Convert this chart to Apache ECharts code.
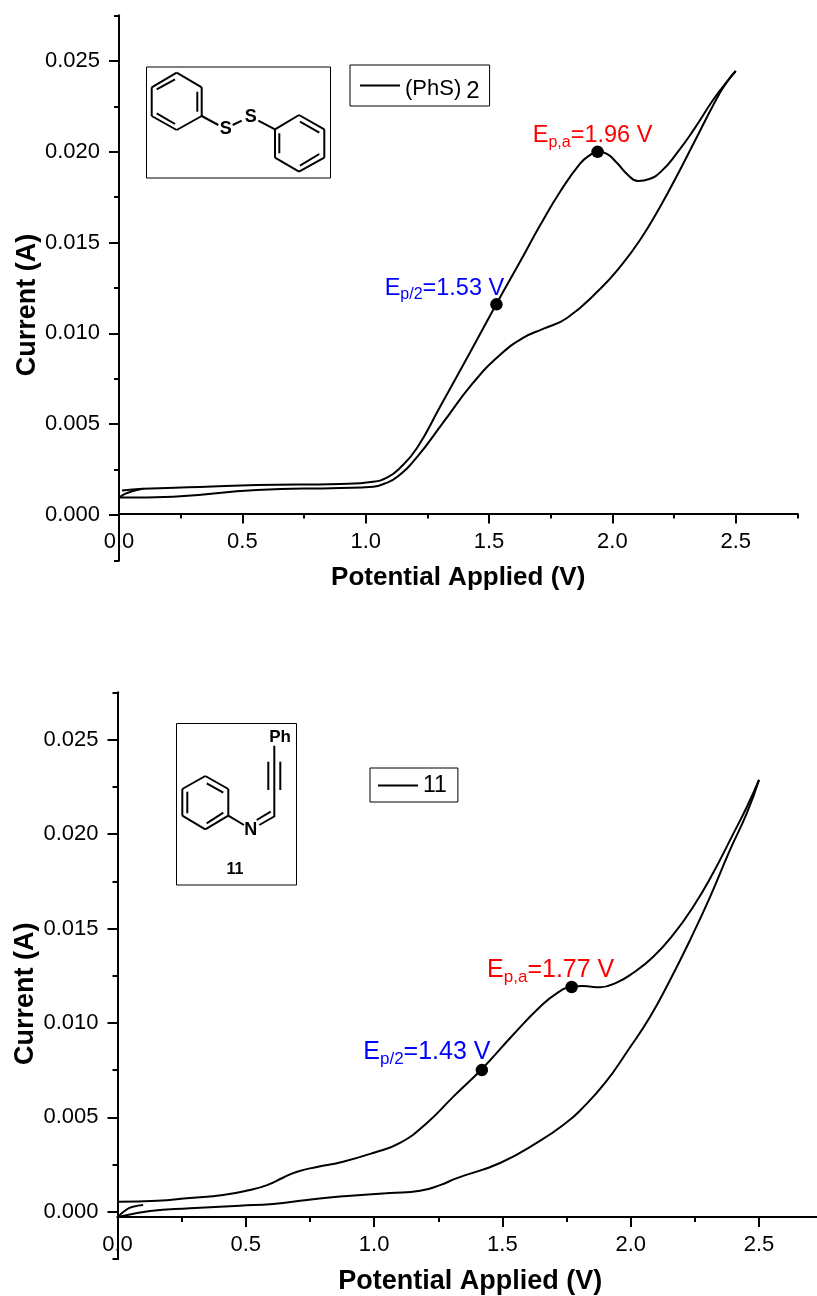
<!DOCTYPE html>
<html><head><meta charset="utf-8">
<style>html,body{margin:0;padding:0;background:#fff}#c{width:817px;height:1296px}</style>
<script src="https://cdn.jsdelivr.net/npm/echarts@6/dist/echarts.min.js"></script>
</head><body><div id="c"></div>
<script>
const xMajor=[0,0.5,1,1.5,2,2.5];
const xMinor=[0.25,0.75,1.25,1.75,2.25,2.75];
const yMajor=[0,0.005,0.01,0.015,0.02,0.025];
const yMinor=[-0.0025,0.0025,0.0075,0.0125,0.0175,0.0225,0.0275];

const upperA=[[.012,.00135],[.097,.00145],[.328,.00154],[.559,.00165],[.896,.00171],[1.03,.00183],[1.09,.00209],[1.139,.00259],[1.208,.00369],[1.301,.00595],[1.423,.00895],[1.532,.01167],[1.625,.01393],[1.707,.01595],[1.788,.0178],[1.869,.01935],[1.909,.01982],[1.942,.02],[1.978,.01988],[2.019,.01938],[2.059,.01878],[2.104,.01839],[2.15,.0185],[2.2,.01895],[2.26,.0199],[2.33,.02122],[2.408,.02285],[2.464,.02385],[2.5,.02445]];
const lowerA=[[.002,.00096],[.219,.00101],[.559,.00138],[.896,.00149],[1.03,.00156],[1.075,.00172],[1.127,.00209],[1.208,.00319],[1.313,.00507],[1.435,.00727],[1.544,.00881],[1.638,.00975],[1.719,.01025],[1.816,.01085],[1.95,.01244],[2.031,.01366],[2.112,.01514],[2.193,.01696],[2.274,.019],[2.355,.02115],[2.436,.02325],[2.47,.02395],[2.5,.02445]];
const stubA=[[0,.00094],[.024,.00116],[.057,.00132],[.097,.00145]];
const peaksA=[[1.94,.02],[1.53,.0116]];

const upperB=[[.006,.00053],[.154,.00058],[.283,.00073],[.411,.00088],[.516,.00115],[.583,.00141],[.645,.0018],[.7,.00212],[.777,.00237],[.879,.00265],[.996,.00311],[1.101,.00364],[1.206,.0047],[1.308,.00608],[1.42,.00756],[1.541,.00936],[1.646,.01084],[1.713,.01158],[1.767,.0119],[1.814,.01195],[1.88,.01189],[1.947,.01215],[2.009,.01264],[2.087,.01349],[2.165,.01466],[2.243,.01614],[2.321,.01794],[2.399,.02],[2.453,.02145],[2.5,.02287]];
const lowerB=[[.002,-.00028],[.127,.00004],[.283,.00018],[.477,.00032],[.606,.00041],[.739,.00062],[.867,.00081],[1.062,.00099],[1.179,.00111],[1.257,.00141],[1.323,.00178],[1.491,.00258],[1.646,.00375],[1.752,.00475],[1.802,.00535],[1.9,.00682],[1.993,.00862],[2.075,.01031],[2.153,.01226],[2.231,.01438],[2.309,.01666],[2.387,.01916],[2.453,.02112],[2.5,.02287]];
const stubB=[[.002,-.00026],[.037,.00013],[.06,.00026],[.1,.00035]];
const peaksB=[[1.77,.0119],[1.42,.0075]];

const FONT='"Liberation Sans",Arial,sans-serif';
const TICK=22;

const bondsA=[[176.7,72.7,201.7,87.3],[201.7,87.3,201.7,116],[201.7,116,176.7,130],[176.7,130,151.7,116],[151.7,116,151.7,87.3],[151.7,87.3,176.7,72.7],
[197.3,91.7,197.3,111.7],[175,79.3,156.7,89.3],[156.7,113.3,175,124],
[201.7,116,218.3,125],[232.7,125,241.7,120.7],[258.3,120.7,275,129.3],
[299,115,324.3,129.3],[324.3,129.3,324.3,157.7],[324.3,157.7,299,171.7],[299,171.7,275,157.7],[275,157.7,275,129.3],[275,129.3,299,115],
[279.3,133.3,279.3,153.3],[300,121.7,319.3,132.7],[319.3,154,300,165.7]];
const bondsB=[[274.3,745.7,274.3,816],[268.3,761.7,268.3,790],[280.3,761.7,280.3,790],
[275,816,259.3,825],[270.7,811.7,256.7,820],[228.3,815.7,244,825],
[205.3,776,228.3,789],[228.3,789,228.3,815.7],[228.3,815.7,205.3,829.3],[205.3,829.3,182.3,815.7],[182.3,815.7,182.3,789],[182.3,789,205.3,776],
[206.7,783.3,223.3,792.7],[187.3,791.7,187.3,813.3],[223.3,812.7,206.7,823.3]];
const atoms=[['S',225.7,129.5,18],['S',250.7,116.7,18],['Ph',280,737,17],['N',250.7,830,18],['11',235,870,16]];

function xAxes(g,off,size){
  const base={type:'value',gridIndex:g,min:0,max:2.75,position:'bottom',offset:off,splitLine:{show:false},
    axisLine:{onZero:false,lineStyle:{color:'#000',width:2}}};
  return [
    {...base,name:'Potential Applied (V)',nameLocation:'middle',nameGap:51,
     nameTextStyle:{fontFamily:FONT,fontWeight:'bold',fontSize:size,color:'#000'},
     axisTick:{customValues:xMajor,length:10,lineStyle:{color:'#000',width:2}},
     axisLabel:{customValues:xMajor,margin:17,fontFamily:FONT,fontSize:TICK,color:'#000',formatter:v=>v.toFixed(1)}},
    {...base,axisTick:{customValues:xMinor,length:5,lineStyle:{color:'#000',width:2}},axisLabel:{show:false}}
  ];
}
function yAxes(g,pad,gap){
  const base={type:'value',gridIndex:g,min:-0.0025,max:0.0275,position:'left',splitLine:{show:false},
    axisLine:{onZero:false,lineStyle:{color:'#000',width:2}}};
  return [
    {...base,name:'Current (A)',nameLocation:'middle',nameGap:gap,nameMoveOverlap:false,
     nameTextStyle:{fontFamily:FONT,fontWeight:'bold',fontSize:27,color:'#000',padding:[0,pad,0,0]},
     axisTick:{customValues:yMajor,length:10,lineStyle:{color:'#000',width:2}},
     axisLabel:{customValues:yMajor,margin:19,fontFamily:FONT,fontSize:TICK,color:'#000',formatter:v=>v.toFixed(3)}},
    {...base,axisTick:{customValues:yMinor,length:5,lineStyle:{color:'#000',width:2}},axisLabel:{show:false}}
  ];
}
function curve(name,data,xi,yi){
  return {name,type:'line',data,xAxisIndex:xi,yAxisIndex:yi,smooth:0.5,showSymbol:false,symbol:'none',clip:false,
    lineStyle:{color:'#000',width:2},itemStyle:{color:'#000'},silent:true,z:3};
}
function label(sub,val,color,off,fs){
  return {show:true,position:'top',offset:off,color,fontFamily:FONT,opacity:1,
    formatter:'{e|E}{s|'+sub+'}{e|='+val+' V}',
    rich:{e:{fontSize:fs,color,fontFamily:FONT,lineHeight:26},s:{fontSize:fs*0.68,color,fontFamily:FONT,padding:[14,0,0,0]}}};
}
function dots(pts,xi,yi,names,offs,fs){
  return {name:'peaks'+xi,type:'scatter',xAxisIndex:xi,yAxisIndex:yi,symbolSize:12.5,itemStyle:{color:'#000',opacity:1},z:5,clip:false,silent:true,
    data:pts.map((p,i)=>({value:p,label:label(names[i][0],names[i][1],names[i][2],offs[i],fs)}))};
}
const g=[];
function box(x1,y1,x2,y2){g.push({type:'rect',silent:true,shape:{x:x1,y:y1,width:x2-x1,height:y2-y1},style:{fill:'#fff',stroke:'#000',lineWidth:1}});}
box(146.5,67,330.5,178); box(176.5,723.5,296.5,885);
bondsA.concat(bondsB).forEach(b=>g.push({type:'line',silent:true,shape:{x1:b[0],y1:b[1],x2:b[2],y2:b[3]},style:{stroke:'#000',lineWidth:2}}));
atoms.forEach(a=>g.push({type:'text',silent:true,x:a[1],y:a[2],style:{text:a[0],fontFamily:FONT,fontWeight:'bold',fontSize:a[3],fill:'#000',align:'center',verticalAlign:'middle'}}));

const chart=echarts.init(document.getElementById('c'),null,{renderer:'canvas',width:817,height:1296});
chart.setOption({
  animation:false,backgroundColor:'#fff',
  grid:[
    {left:119,top:15.6,width:678.4,height:544.8,outerBoundsMode:'none',containLabel:false},
    {left:117.5,top:692.5,width:705.65,height:566.4,outerBoundsMode:'none',containLabel:false}
  ],
  xAxis:[...xAxes(0,-46.9,26),...xAxes(1,-41.9,27)],
  yAxis:[...yAxes(0,34,78),...yAxes(1,36,78)],
  legend:[
    {data:['(PhS)2'],left:350,top:65,orient:'horizontal',padding:[13,10,3,10],icon:'rect',itemWidth:40,itemHeight:2,itemGap:0,selectedMode:false,
     borderColor:'#000',borderWidth:1,formatter:()=>'{a|(PhS)}{b|2}',
     textStyle:{fontFamily:FONT,color:'#000',rich:{a:{fontSize:22,fontFamily:FONT,color:'#000',padding:[7,0,0,0]},b:{fontSize:24,fontFamily:FONT,color:'#000',padding:[11,0,0,5]}}}},
    {data:['11'],left:370,top:768,orient:'horizontal',padding:[6,11,5,8],icon:'rect',itemWidth:40,itemHeight:2,itemGap:0,selectedMode:false,
     borderColor:'#000',borderWidth:1,textStyle:{fontFamily:FONT,fontSize:23,color:'#000'}}
  ],
  series:[
    curve('(PhS)2',upperA,0,0),curve('lowerA',lowerA,0,0),curve('stubA',stubA,0,0),
    dots(peaksA,0,0,[['p,a','1.96','#ff0000'],['p/2','1.53','#0000ff']],[[-5,10],[-52,10]],23.5),
    curve('11',upperB,2,2),curve('lowerB',lowerB,2,2),curve('stubB',stubB,2,2),
    dots(peaksB,2,2,[['p,a','1.77','#ff0000'],['p/2','1.43','#0000ff']],[[-21,10],[-55,9]],25)
  ],
  graphic:g
});
</script></body></html>
